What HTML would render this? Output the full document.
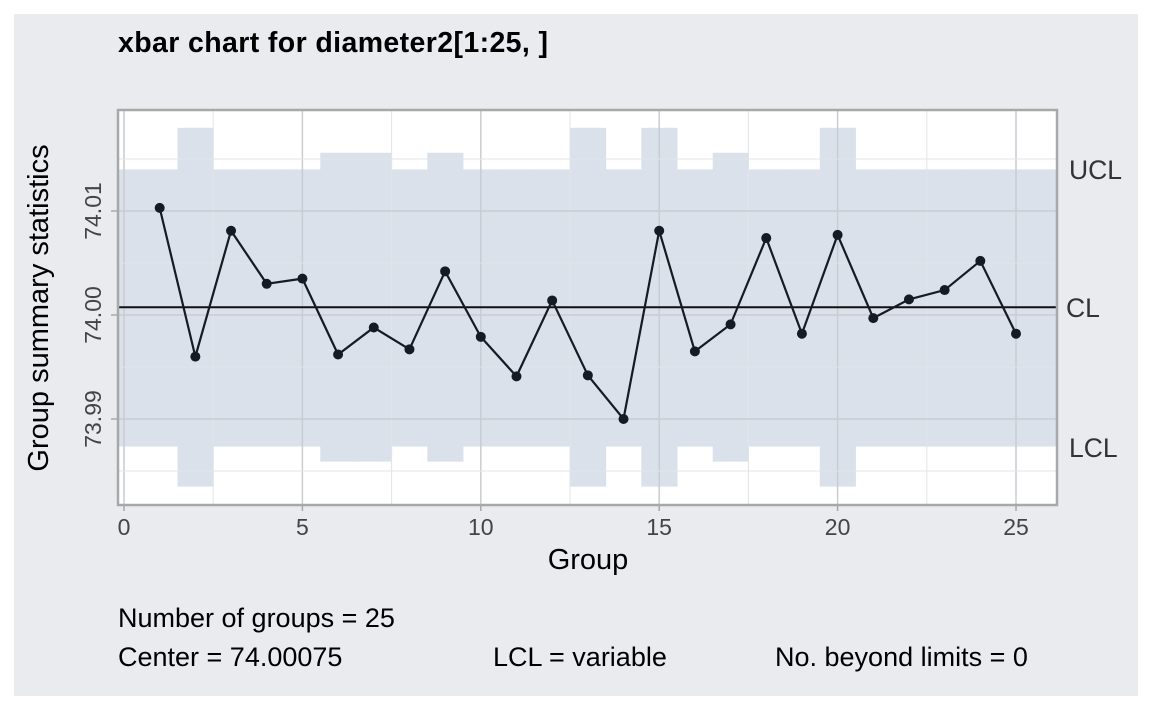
<!DOCTYPE html>
<html><head><meta charset="utf-8"><style>
body{margin:0;background:#fff}
svg{display:block;font-family:"Liberation Sans",sans-serif}
</style></head><body>
<svg width="1152" height="711" viewBox="0 0 1152 711">
<rect x="14" y="14" width="1124" height="682" fill="#e9ebef"/>
<text x="118" y="52" font-size="28.5" font-weight="bold" fill="#000" textLength="430">xbar chart for diameter2[1:25, ]</text>
<rect x="118" y="110" width="939" height="395" fill="#fff"/>
<g id="bands"></g>
<g id="grid"></g>
<g id="series"></g>
<rect x="118" y="110" width="939" height="395" fill="none" stroke="#a8a8a8" stroke-width="2.5"/>
<g id="axes" font-size="23" fill="#444"></g>
<text x="588" y="569" font-size="29" text-anchor="middle" fill="#000">Group</text>
<text transform="translate(48,308) rotate(-90)" font-size="29" text-anchor="middle" fill="#000">Group summary statistics</text>
<text x="1069" y="179" font-size="26.5" fill="#333">UCL</text>
<text x="1066" y="317" font-size="26.5" fill="#333">CL</text>
<text x="1069" y="457" font-size="26.5" fill="#333">LCL</text>
<text x="118" y="627" font-size="27" fill="#000">Number of groups = 25</text>
<text x="118" y="666" font-size="27" fill="#000">Center = 74.00075</text>
<text x="493" y="666" font-size="27" fill="#000">LCL = variable</text>
<text x="775" y="666" font-size="27" fill="#000">No. beyond limits = 0</text>
</svg>
<script>
const groups=[1,2,3,4,5,6,7,8,9,10,11,12,13,14,15,16,17,18,19,20,21,22,23,24,25];
const means=[74.0103,73.9960,74.0081,74.0030,74.0035,73.9962,73.9988,73.9967,74.0042,73.9979,73.9941,74.0014,73.9942,73.9900,74.0081,73.9965,73.9991,74.0074,73.9982,74.0077,73.9997,74.0015,74.0024,74.0052,73.9982];
const ucl=[74.0140,74.0180,74.0140,74.0140,74.0140,74.0156,74.0156,74.0140,74.0156,74.0140,74.0140,74.0140,74.0180,74.0140,74.0180,74.0140,74.0156,74.0140,74.0140,74.0180,74.0140,74.0140,74.0140,74.0140,74.0140];
const lcl=[73.98735,73.9835,73.98735,73.98735,73.98735,73.9859,73.9859,73.98735,73.9859,73.98735,73.98735,73.98735,73.9835,73.98735,73.9835,73.98735,73.9859,73.98735,73.98735,73.9835,73.98735,73.98735,73.98735,73.98735,73.98735];
const center=74.00075;
const xTicks=[0,5,10,15,20,25];
const yTicks=[73.99,74.00,74.01];
const yTickLabels=["73.99","74.00","74.01"];
const NS="http://www.w3.org/2000/svg";
const X=v=>124+v*(1016-124)/25;
const Y=v=>315-(v-74.00)/0.01*104;
function mk(t,a,p){const e=document.createElementNS(NS,t);for(const k in a)e.setAttribute(k,a[k]);document.getElementById(p).appendChild(e);return e;}
groups.forEach((g,i)=>{
 let x0=i===0?119:X(g-0.5), x1=i===groups.length-1?1056:X(g+0.5);
 const r=mk('rect',{x:x0,y:Y(ucl[i]),width:x1-x0+0.5,height:Y(lcl[i])-Y(ucl[i]),fill:'#dbe1ea'},'bands');
 
 
});
for(let v=0;v<=25;v+=2.5){const l=mk('line',{x1:X(v),x2:X(v),y1:111,y2:504,stroke:v%5===0?'#c9ccd2':'#e2e4e8','stroke-width':v%5===0?1.5:1},'grid');
 }
for(let v=73.985;v<=74.0151;v+=0.005){const major=Math.abs(Math.round(v*100)-v*100)<1e-6;const l=mk('line',{x1:119,x2:1056,y1:Y(v),y2:Y(v),stroke:major?'#c9ccd2':'#e2e4e8','stroke-width':major?1.5:1},'grid');
 }
const cl=mk('line',{x1:119,x2:1056,y1:Y(center),y2:Y(center),stroke:'#111','stroke-width':2},'series');

const pl=mk('polyline',{points:groups.map((g,i)=>X(g)+','+Y(means[i])).join(' '),fill:'none',stroke:'#151a24','stroke-width':2.2},'series');

groups.forEach((g,i)=>{const c=mk('circle',{cx:X(g),cy:Y(means[i]),r:5,fill:'#151a24'},'series');
 });
xTicks.forEach(v=>{const t=mk('line',{x1:X(v),x2:X(v),y1:505,y2:511,stroke:'#a8a8a8','stroke-width':1.5},'axes');
 
 const s=mk('text',{x:X(v),y:535,'text-anchor':'middle'},'axes');s.textContent=v;
 });
yTicks.forEach((v,i)=>{const t=mk('line',{x1:111,x2:118,y1:Y(v),y2:Y(v),stroke:'#a8a8a8','stroke-width':1.5},'axes');
 
 const s=mk('text',{transform:`translate(101,${Y(v)}) rotate(-90)`,'text-anchor':'middle'},'axes');s.textContent=yTickLabels[i];
 });
</script>
</body></html>
